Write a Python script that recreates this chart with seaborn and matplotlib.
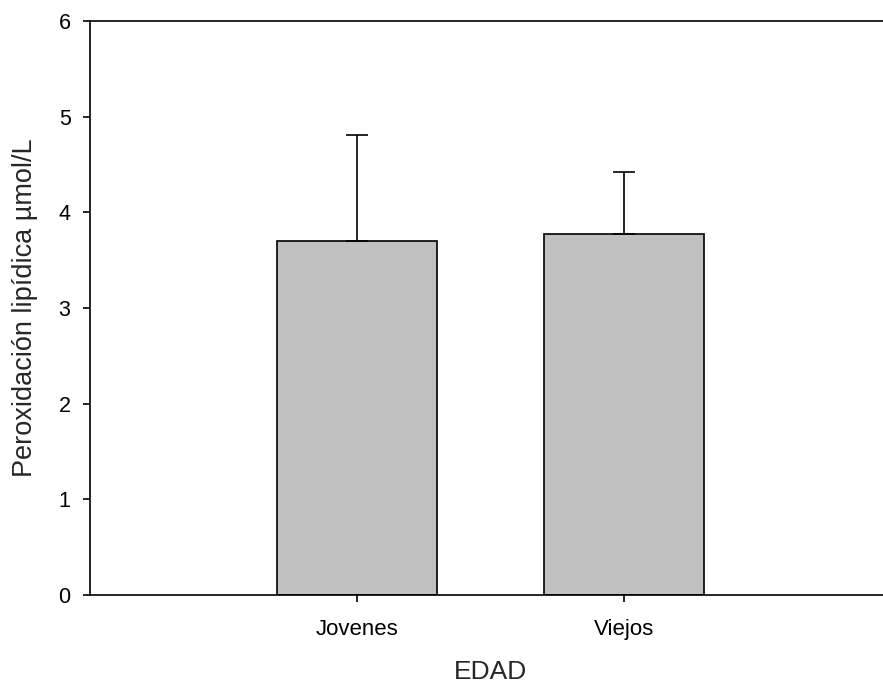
import numpy as np
import matplotlib
matplotlib.use("Agg")
import matplotlib.pyplot as plt
import seaborn as sns

groups = ["Jovenes", "Viejos"]
means = [3.70, 3.77]
sd_upper = [1.11, 0.65]

sns.set_style("white")
plt.rcParams['font.family'] = ['Liberation Sans', 'DejaVu Sans']

fig = plt.figure(figsize=(8.83, 6.83), dpi=100)
ax = fig.add_axes([90 / 883, 88 / 683, 800.5 / 883, 574 / 683])

sns.barplot(x=groups, y=means, color="#c0c0c0", edgecolor="black",
            linewidth=1.2, width=0.6, saturation=1, ax=ax)

# only the upper half of the error bar
ax.errorbar(np.arange(len(groups)), means, yerr=[np.zeros(len(means)), sd_upper],
            fmt="none", ecolor="black", elinewidth=1.2, capsize=8, capthick=1.2)

ax.set_xlim(-1, 2)
ax.set_ylim(0, 6)
ax.set_yticks(range(0, 7))
ax.tick_params(axis="y", which="major", direction="out", length=5, width=1.2,
               left=True, labelsize=15.5, pad=9, colors="black")
ax.tick_params(axis="x", direction="out", length=5, width=1.2, bottom=True,
               labelsize=16, pad=12, colors="black")
ax.set_xlabel("EDAD", fontsize=19, labelpad=15)
ax.set_ylabel("Peroxidación lipídica µmol/L", fontsize=19.5, labelpad=15)

for side in ["left", "bottom", "top"]:
    ax.spines[side].set_color("black")
    ax.spines[side].set_linewidth(1.2)
ax.spines["right"].set_visible(False)

fig.savefig("out.png", dpi=100)
